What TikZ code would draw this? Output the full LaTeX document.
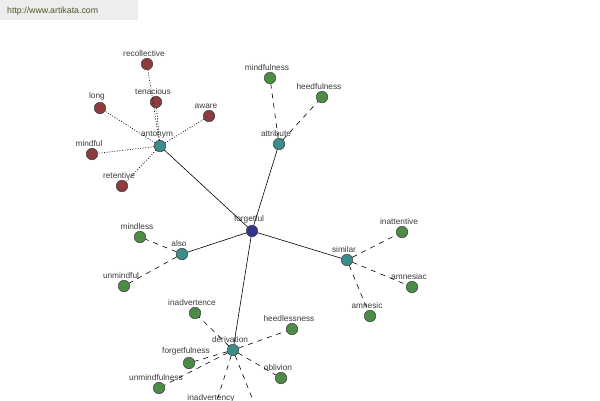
\documentclass[tikz,border=0pt]{standalone}
\usepackage{fontspec}
\setmainfont{Liberation Sans}
\definecolor{hubc}{HTML}{3C8C8C}
\definecolor{rootc}{HTML}{34348C}
\definecolor{redc}{HTML}{8C3C3C}
\definecolor{grnc}{HTML}{4C8C44}
\definecolor{txtc}{HTML}{3C3C3C}
\definecolor{urlc}{HTML}{4A5A28}
\begin{document}
\begin{tikzpicture}[x=1pt,y=-1pt,
  dot/.style={circle,draw=black!75,line width=0.5pt,minimum size=11.5pt,inner sep=0pt},
  root/.style={dot,fill=rootc},
  hub/.style={dot,fill=hubc},
  ant/.style={dot,fill=redc},
  leaf/.style={dot,fill=grnc},
  lbl/.style={font=\fontsize{8.3}{9}\selectfont,text=txtc,inner sep=0pt,xshift=-3pt},
  every label/.style={lbl},
  label distance=1.5pt,
  solidline/.style={draw=black,line width=0.6pt},
  dotline/.style={draw=black,line width=0.6pt,dash pattern=on 1pt off 1.6pt},
  dashline/.style={draw=black,line width=0.6pt,dash pattern=on 5pt off 5pt}]
\useasboundingbox (0,0) rectangle (600,400);
\fill[white] (0,0) rectangle (600,400);
\clip (0,0) rectangle (600,400);
\fill[black!7] (0,0) rectangle (138,20);
\node[font=\fontsize{8.8}{10}\selectfont,text=urlc,anchor=west,inner sep=0pt] (url) at (7,11) {http://www.artikata.com};
% hubs
\node[root,label=above:forgetful] (forgetful) at (252,231) {};
\node[hub,label=above:antonym] (antonym) at (160,146) {};
\node[hub,label=above:attribute] (attribute) at (279,144) {};
\node[hub,label=above:also] (also) at (182,254) {};
\node[hub,label=above:similar] (similar) at (347,260) {};
\node[hub,label=above:derivation] (derivation) at (233,350) {};
% antonym leaves
\node[ant,label=above:recollective] (recollective) at (147,64) {};
\node[ant,label=above:tenacious] (tenacious) at (156,102) {};
\node[ant,label=above:long] (long) at (100,108) {};
\node[ant,label=above:aware] (aware) at (209,116) {};
\node[ant,label=above:mindful] (mindful) at (92,154) {};
\node[ant,label=above:retentive] (retentive) at (122,186) {};
% attribute leaves
\node[leaf,label=above:mindfulness] (mindfulness) at (270,78) {};
\node[leaf,label=above:heedfulness] (heedfulness) at (322,97) {};
% also leaves
\node[leaf,label=above:mindless] (mindless) at (140,237) {};
\node[leaf,label=above:unmindful] (unmindful) at (124,286) {};
% similar leaves
\node[leaf,label=above:inattentive] (inattentive) at (402,232) {};
\node[leaf,label=above:amnesiac] (amnesiac) at (412,287) {};
\node[leaf,label=above:amnesic] (amnesic) at (370,316) {};
% derivation leaves
\node[leaf,label=above:inadvertence] (inadvertence) at (195,313) {};
\node[leaf,label=above:heedlessness] (heedlessness) at (292,329) {};
\node[leaf,label=above:forgetfulness] (forgetfulness) at (189,363) {};
\node[leaf,label=above:unmindfulness] (unmindfulness) at (159,388) {};
\node[leaf,label=above:oblivion] (oblivion) at (281,378) {};
\node[leaf,label=above:inadvertency] (inadvertency) at (214,410) {};
\node[leaf] (hidden) at (268,438) {};
% edges
\draw[solidline] (forgetful) -- (antonym);
\draw[solidline] (forgetful) -- (attribute);
\draw[solidline] (forgetful) -- (also);
\draw[solidline] (forgetful) -- (similar);
\draw[solidline] (forgetful) -- (derivation);
\foreach \n in {recollective,tenacious,long,aware,mindful,retentive}
  \draw[dotline] (antonym) -- (\n);
\foreach \n in {mindfulness,heedfulness}
  \draw[dashline] (attribute) -- (\n);
\foreach \n in {mindless,unmindful}
  \draw[dashline] (also) -- (\n);
\foreach \n in {inattentive,amnesiac,amnesic}
  \draw[dashline] (similar) -- (\n);
\foreach \n in {inadvertence,heedlessness,forgetfulness,unmindfulness,oblivion,inadvertency,hidden}
  \draw[dashline] (derivation) -- (\n);
\end{tikzpicture}
\end{document}
